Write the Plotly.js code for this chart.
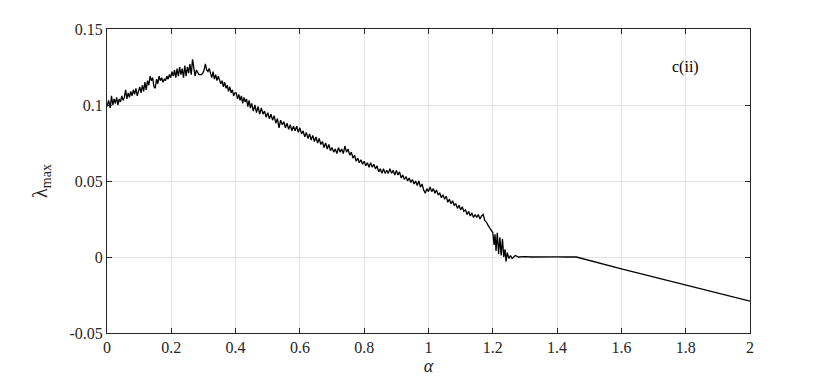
<!DOCTYPE html>
<html>
<head>
<meta charset="utf-8">
<script src="https://cdn.plot.ly/plotly-3.0.1.min.js"></script>
<style>body{margin:0;background:#fff}</style>
</head>
<body>
<div id="plot" style="width:830px;height:387px"></div>
<script>
// alpha values and lambda_max
var alpha = [
0.000,0.005,0.010,0.014,0.018,0.022,0.026,0.030,0.034,0.038,0.042,0.046,0.050,0.054,0.058,0.062,0.066,0.070,0.074,0.078,
0.082,0.086,0.090,0.094,0.098,0.102,0.106,0.110,0.114,0.118,0.122,0.126,0.130,0.134,0.138,0.142,0.146,0.150,0.154,0.158,
0.162,0.166,0.170,0.174,0.178,0.182,0.186,0.190,0.194,0.198,0.202,0.206,0.210,0.214,0.218,0.222,0.226,0.230,0.234,0.238,
0.242,0.246,0.250,0.254,0.258,0.262,0.266,0.270,0.274,0.278,0.282,0.286,0.290,0.294,0.298,0.302,0.306,0.310,0.314,0.318,
0.322,0.326,0.330,0.334,0.338,0.342,0.346,0.350,0.354,0.358,0.362,0.366,0.370,0.374,0.378,0.382,0.386,0.390,0.394,0.398,
0.402,0.406,0.410,0.414,0.418,0.422,0.426,0.430,0.434,0.438,0.442,0.446,0.450,0.455,0.460,0.465,0.470,0.475,0.480,0.485,
0.490,0.495,0.500,0.505,0.510,0.515,0.520,0.525,0.530,0.535,0.540,0.545,0.550,0.555,0.560,0.565,0.570,0.575,0.580,0.585,
0.590,0.595,0.600,0.605,0.610,0.615,0.620,0.625,0.630,0.635,0.640,0.645,0.650,0.655,0.660,0.665,0.670,0.675,0.680,0.685,
0.690,0.695,0.700,0.705,0.710,0.715,0.720,0.725,0.730,0.735,0.740,0.745,0.750,0.755,0.760,0.765,0.770,0.775,0.780,0.785,
0.790,0.795,0.800,0.805,0.810,0.815,0.820,0.825,0.830,0.835,0.840,0.845,0.850,0.855,0.860,0.865,0.870,0.875,0.880,0.885,
0.890,0.895,0.900,0.905,0.910,0.915,0.920,0.925,0.930,0.935,0.940,0.945,0.950,0.955,0.960,0.965,0.970,0.975,0.980,0.985,
0.990,0.995,1.000,1.005,1.010,1.015,1.020,1.025,1.030,1.035,1.040,1.045,1.050,1.055,1.060,1.065,1.070,1.075,1.080,1.085,
1.090,1.095,1.100,1.105,1.110,1.115,1.120,1.125,1.130,1.135,1.140,1.145,1.150,1.155,1.160,1.165,1.170,1.175,1.180,1.185,
1.190,1.195,1.200,1.204,1.207,1.210,1.214,1.218,1.222,1.226,1.230,1.234,1.238,1.241,1.245,1.250,1.255,1.260,1.265,1.270,
1.280,1.300,1.320,1.350,1.380,1.400,1.430,1.460,1.600,1.800,2.000
];
var lambdaMax = [
0.099,0.103,0.098,0.106,0.100,0.104,0.101,0.105,0.100,0.104,0.102,0.106,0.103,0.105,0.110,0.104,0.108,0.105,0.109,0.106,
0.110,0.107,0.111,0.106,0.109,0.112,0.108,0.113,0.109,0.115,0.110,0.116,0.113,0.119,0.116,0.118,0.112,0.111,0.117,0.114,
0.119,0.116,0.118,0.115,0.117,0.116,0.119,0.117,0.120,0.118,0.122,0.119,0.123,0.118,0.124,0.119,0.125,0.120,0.124,0.118,
0.126,0.119,0.125,0.121,0.127,0.120,0.130,0.124,0.119,0.123,0.121,0.120,0.120,0.120,0.121,0.123,0.127,0.123,0.122,0.124,
0.121,0.118,0.122,0.117,0.120,0.116,0.119,0.117,0.114,0.116,0.112,0.115,0.111,0.113,0.109,0.112,0.108,0.110,0.106,0.108,
0.108,0.104,0.107,0.103,0.106,0.101,0.105,0.102,0.104,0.099,0.103,0.098,0.101,0.096,0.100,0.095,0.099,0.094,0.098,0.094,
0.096,0.092,0.095,0.091,0.094,0.090,0.093,0.088,0.091,0.085,0.090,0.087,0.089,0.085,0.088,0.084,0.087,0.083,0.086,0.083,
0.086,0.082,0.085,0.081,0.083,0.079,0.082,0.078,0.081,0.077,0.080,0.076,0.079,0.075,0.078,0.074,0.076,0.072,0.075,0.071,
0.074,0.070,0.072,0.069,0.071,0.068,0.072,0.069,0.071,0.068,0.073,0.069,0.071,0.067,0.069,0.065,0.067,0.063,0.065,0.062,
0.064,0.061,0.063,0.060,0.062,0.059,0.062,0.059,0.061,0.058,0.060,0.056,0.058,0.055,0.058,0.055,0.057,0.055,0.058,0.055,
0.057,0.054,0.057,0.054,0.056,0.052,0.054,0.051,0.053,0.050,0.052,0.049,0.051,0.048,0.050,0.047,0.050,0.046,0.048,0.044,
0.042,0.045,0.043,0.046,0.043,0.045,0.042,0.044,0.041,0.042,0.039,0.041,0.038,0.040,0.036,0.038,0.035,0.037,0.034,0.035,
0.032,0.034,0.031,0.033,0.030,0.031,0.028,0.030,0.027,0.029,0.026,0.028,0.026,0.028,0.025,0.027,0.028,0.024,0.023,0.021,
0.019,0.018,0.016,0.008,0.015,0.004,0.016,0.002,0.013,0.001,0.012,0.000,0.005,-0.003,0.003,-0.001,0.001,-0.001,0.000,0.001,
0.000,0.0003,0.000,0.0002,0.000,0.0001,0.000,0.000,-0.0078,-0.0185,-0.029
];

var xTicks = [0,0.2,0.4,0.6,0.8,1,1.2,1.4,1.6,1.8,2];
var xTickText = ["0","0.2","0.4","0.6","0.8","1","1.2","1.4","1.6","1.8","2"];
var yTicks = [-0.05,0,0.05,0.1,0.15];
var yTickText = ["-0.05","0","0.05","0.1","0.15"];

var serif = "'Liberation Serif', 'Times New Roman', Times, serif";

var trace1 = {
    x: alpha,
    y: lambdaMax,
    type: "scatter",
    mode: "lines",
    line: {color: "#000", width: 1.3},
    hoverinfo: "skip"
};
var data = [trace1];

var layOut = {
    width: 830,
    height: 387,
    margin: {l: 107, r: 80, t: 29, b: 54},
    paper_bgcolor: "#fff",
    plot_bgcolor: "#fff",
    showlegend: false,
    font: {family: serif, size: 16, color: "#262626"},
    xaxis: {
        range: [0, 2],
        tickvals: xTicks,
        ticktext: xTickText,
        ticks: "inside",
        ticklen: 5,
        tickcolor: "#262626",
        showline: true,
        linecolor: "#262626",
        linewidth: 1,
        mirror: "ticks",
        showgrid: true,
        gridcolor: "#e3e3e3",
        zeroline: false,
        tickfont: {family: serif, size: 16, color: "#262626"},
        title: {text: "<i>α</i>", font: {family: serif, size: 18, color: "#262626"}, standoff: 2}
    },
    yaxis: {
        range: [-0.05, 0.15],
        tickvals: yTicks,
        ticktext: yTickText,
        ticks: "inside",
        ticklen: 5,
        tickcolor: "#262626",
        showline: true,
        linecolor: "#262626",
        linewidth: 1,
        mirror: "ticks",
        showgrid: true,
        gridcolor: "#e3e3e3",
        zeroline: false,
        tickfont: {family: serif, size: 16, color: "#262626"},
        title: {text: "λ<sub>max</sub>", font: {family: serif, size: 20, color: "#262626"}, standoff: 16}
    },
    annotations: [{
        x: 1.8, y: 0.125, xref: "x", yref: "y",
        text: "c(ii)", showarrow: false,
        font: {family: serif, size: 16, color: "#000"}
    }]
};
Plotly.newPlot("plot", data, layOut, {displayModeBar: false, staticPlot: true});
</script>
</body>
</html>
